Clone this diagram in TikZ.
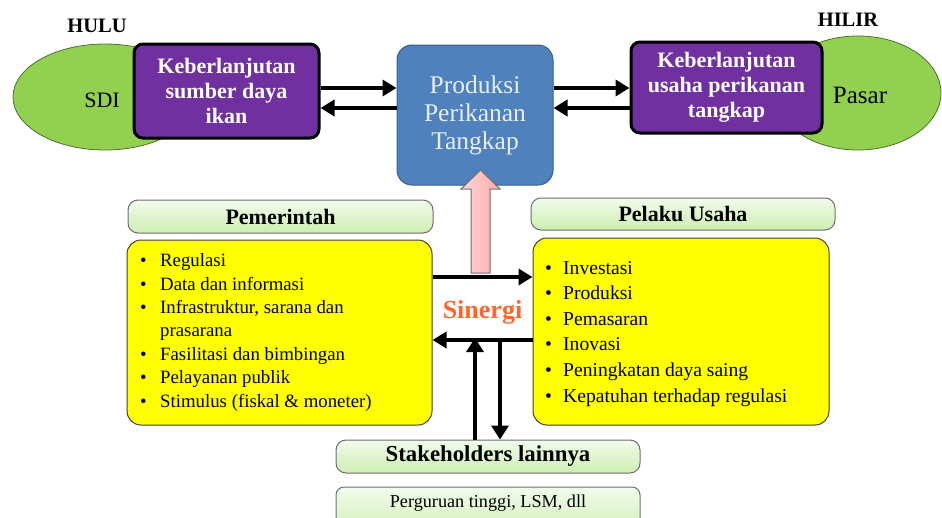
\documentclass[tikz,border=0pt]{standalone}
\usepackage{fontspec}
\setmainfont{Liberation Serif}
\usetikzlibrary{arrows.meta,shapes.geometric}
\definecolor{kpurple}{RGB}{112,48,160}
\definecolor{kgreen}{RGB}{146,208,80}
\definecolor{kgreenline}{RGB}{80,110,50}
\definecolor{kblue}{RGB}{79,129,189}
\definecolor{kblueline}{RGB}{56,93,138}
\definecolor{kbluetext}{RGB}{232,238,247}
\definecolor{kyellow}{RGB}{255,255,0}
\definecolor{khdtop}{RGB}{243,251,236}
\definecolor{khdbot}{RGB}{204,238,176}
\definecolor{kgray}{RGB}{110,110,110}
\definecolor{korange}{RGB}{255,102,40}
\definecolor{kpinkL}{RGB}{255,214,214}
\definecolor{kpinkR}{RGB}{255,170,170}
\newcommand\blt[1]{\makebox[#1][l]{\textbullet}}
\begin{document}
\begin{tikzpicture}[x=1pt,y=-1pt,
  ell/.style={ellipse, draw=kgreenline, line width=0.8pt, fill=kgreen, inner sep=0pt},
  purplebox/.style={draw=black, line width=3pt, fill=kpurple, rounded corners=9pt, text=white,
    font=\fontsize{22}{25}\selectfont\bfseries, align=center, inner sep=0pt},
  bluebox/.style={draw=kblueline, line width=1pt, fill=kblue, rounded corners=15pt, text=kbluetext,
    font=\fontsize{25.5}{28}\selectfont, align=center, inner sep=0pt},
  hdr/.style={draw=kgray, line width=1pt, top color=khdtop, bottom color=khdbot, rounded corners=10pt,
    font=\fontsize{22}{24}\selectfont\bfseries, inner sep=0pt},
  ybox/.style={draw=black!75, line width=1pt, fill=kyellow, rounded corners=14pt, inner sep=0pt},
  arr/.style={line width=4pt, -{Triangle[length=14pt,width=16pt]}},
  varr/.style={line width=4.5pt, -{Triangle[length=14pt,width=17pt]}},
  ttl/.style={font=\fontsize{20.5}{24}\selectfont\bfseries, inner sep=0pt}
]
\useasboundingbox (0,0) rectangle (942,517);
\clip (0,0) rectangle (942,517);

% titles
\node[ttl] (hulu) at (97,26) {HULU};
\node[ttl] (hilir) at (848,20) {HILIR};

% ellipses
\node[ell, minimum width=184pt, minimum height=106pt] (sdi) at (105,97) {};
\node[font=\fontsize{22}{24}\selectfont, inner sep=0pt] (sdit) at (102,100) {SDI};
\node[ell, minimum width=166pt, minimum height=114pt] (pasar) at (858,93) {};
\node[font=\fontsize{25}{28}\selectfont, inner sep=0pt] (pasart) at (860,95) {Pasar};

% purple boxes
\node[purplebox, minimum width=185pt, minimum height=94pt] (k1) at (226.5,91)
  {Keberlanjutan\\sumber daya\\ikan};
\node[purplebox, minimum width=191pt, minimum height=91pt] (k2) at (726.5,87.5)
  {Keberlanjutan\\usaha perikanan\\tangkap};

% blue box
\node[bluebox, minimum width=156pt, minimum height=140pt] (prod) at (475,115)
  {Produksi\\Perikanan\\Tangkap};

% arrows top
\draw[arr] (k1.east |- 0,88) -- (prod.west |- 0,88);
\draw[arr] (prod.west |- 0,108) -- (k1.east |- 0,108);
\draw[arr] (prod.east |- 0,88) -- (k2.west |- 0,88);
\draw[arr] (k2.west |- 0,108) -- (prod.east |- 0,108);

% headers
\node[hdr, minimum width=305pt, minimum height=33pt] (pem) at (280.5,216.5) {Pemerintah};
\node[hdr, minimum width=304pt, minimum height=32pt] (pel) at (683,214) {Pelaku Usaha};

% yellow boxes
\node[ybox, minimum width=305pt, minimum height=185pt] (ly) at (279.5,332.5) {};
\node[ybox, minimum width=296pt, minimum height=187pt] (ry) at (681,331.5) {};

\node[anchor=base west, inner sep=0pt, align=left, font=\fontsize{18.8}{23.4}\selectfont] (llist) at (140,407)
 {\blt{20pt}Regulasi\\
  \blt{20pt}Data dan informasi\\
  \blt{20pt}Infrastruktur, sarana dan\\
  \makebox[20pt]{}prasarana\\
  \blt{20pt}Fasilitasi dan bimbingan\\
  \blt{20pt}Pelayanan publik\\
  \blt{20pt}Stimulus (fiskal \& moneter)};

\node[anchor=base west, inner sep=0pt, align=left, font=\fontsize{19.6}{25.6}\selectfont] (rlist) at (545,402)
 {\blt{18pt}Investasi\\
  \blt{18pt}Produksi\\
  \blt{18pt}Pemasaran\\
  \blt{18pt}Inovasi\\
  \blt{18pt}Peningkatan daya saing\\
  \blt{18pt}Kepatuhan terhadap regulasi};

% pink block arrow
\draw[kgray, line width=1pt, left color=kpinkL, right color=kpinkR]
  (471,273) -- (471,189) -- (461,189) -- (480.5,170) -- (500,189) -- (490,189) -- (490,273) -- cycle;

% sinergi arrows
\coordinate (mL) at (ly.east |- 0,340);
\draw[arr] (ly.east |- 0,277) -- (ry.west |- 0,277);
\draw[arr] (ry.west |- 0,340) -- (mL);
\node[font=\fontsize{26}{28}\selectfont\bfseries, text=korange, inner sep=0pt] (sin) at (482.5,312) {Sinergi};

% stakeholders
\node[hdr, minimum width=304pt, minimum height=33pt, font=\fontsize{22.8}{24}\selectfont\bfseries] (stk) at (488,456.5) {Stakeholders lainnya};
\node[draw=kgray, line width=1pt, top color=khdtop, bottom color=khdbot, rounded corners=8pt,
  minimum width=304pt, minimum height=50pt, inner sep=0pt] (pt) at (488,512) {};
\node[font=\fontsize{18.2}{20}\selectfont, inner sep=0pt] (ptt) at (488,503) {Perguruan tinggi, LSM, dll};

\coordinate (up) at (475,338);
\coordinate (dn) at (500,340);
\draw[varr] (stk.north -| up) -- (up);
\draw[varr] (dn) -- (stk.north -| dn);
\end{tikzpicture}
\end{document}
